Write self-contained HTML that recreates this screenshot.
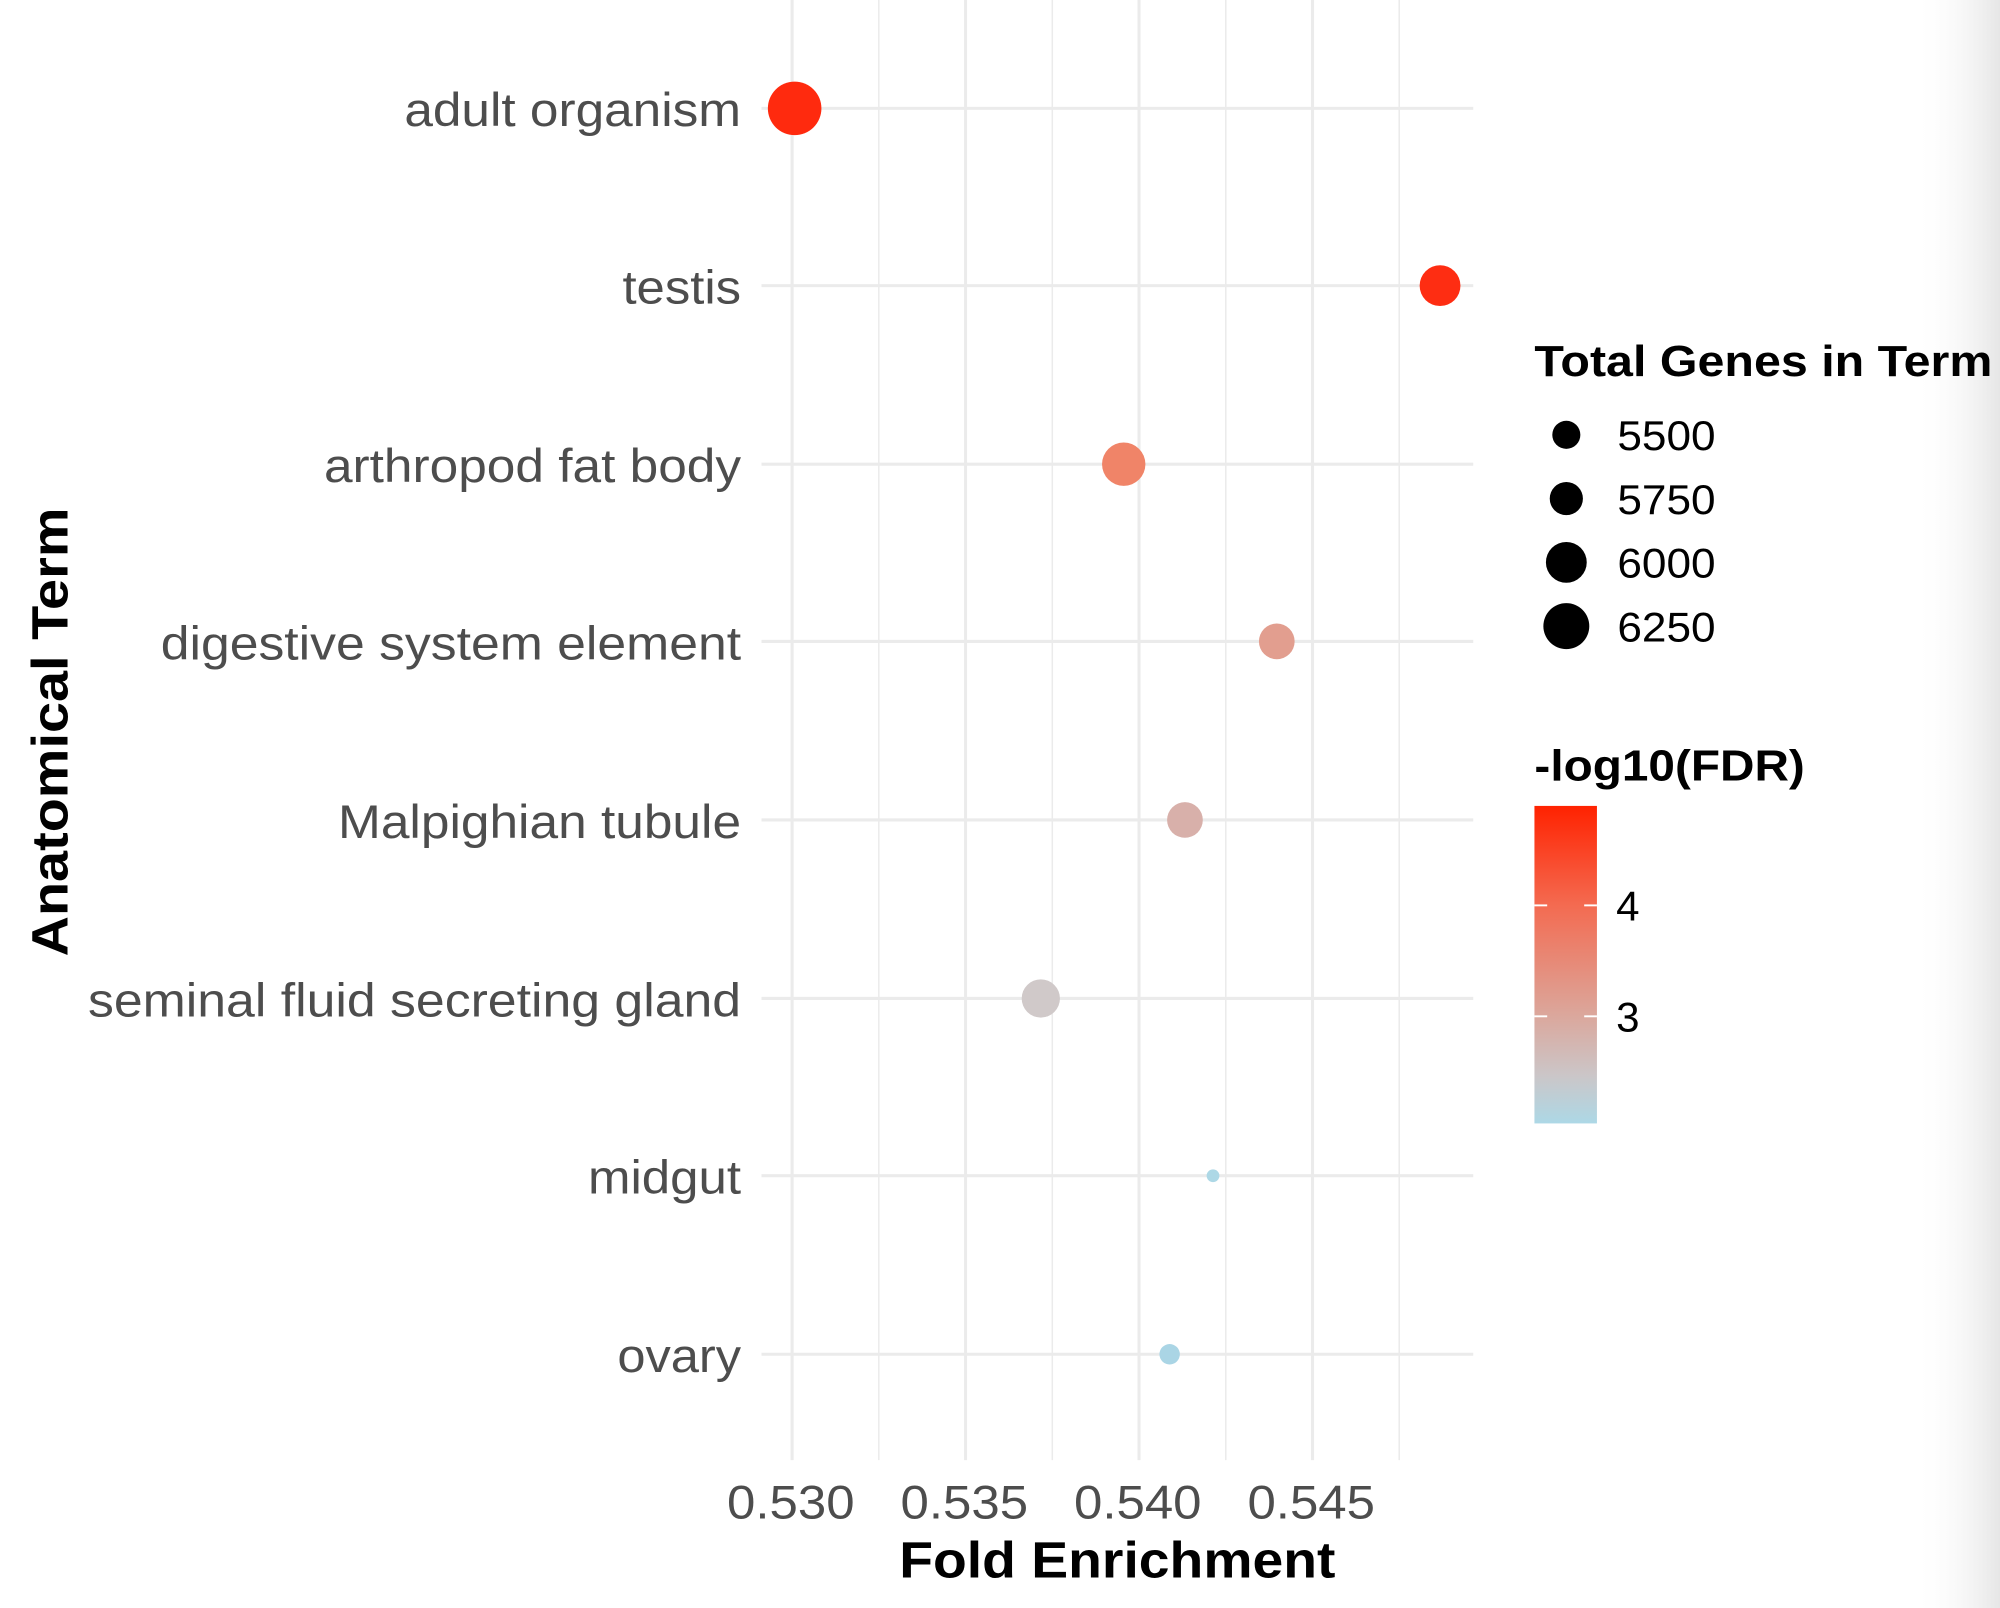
<!DOCTYPE html>
<html><head><meta charset="utf-8"><style>html,body{margin:0;padding:0;background:#fff}svg{display:block}</style></head>
<body>
<svg width="2000" height="1608" viewBox="0 0 1568 1261" xmlns="http://www.w3.org/2000/svg" preserveAspectRatio="none">
<defs>
<linearGradient id="cb" x1="0" y1="0" x2="0" y2="1">
<stop offset="0" stop-color="#FF2200"/>
<stop offset="0.31" stop-color="#F46A50"/>
<stop offset="0.66" stop-color="#DBA79C"/>
<stop offset="0.85" stop-color="#CBC6C8"/>
<stop offset="1" stop-color="#ADD8E6"/>
</linearGradient>
<linearGradient id="edge" x1="0" y1="0" x2="1" y2="0">
<stop offset="0" stop-color="#fff" stop-opacity="0"/>
<stop offset="1" stop-color="#e6e6e6"/>
</linearGradient>
</defs>
<rect width="1568" height="1261" fill="#fff"/>
<rect x="1500" y="0" width="68" height="1261" fill="url(#edge)"/>
<g stroke="#ebebeb" stroke-width="1.2">
<line x1="689" y1="0" x2="689" y2="1145"/><line x1="825" y1="0" x2="825" y2="1145"/>
<line x1="961" y1="0" x2="961" y2="1145"/><line x1="1097" y1="0" x2="1097" y2="1145"/>
</g>
<g stroke="#ebebeb" stroke-width="2.4">
<line x1="621" y1="0" x2="621" y2="1145"/><line x1="757" y1="0" x2="757" y2="1145"/>
<line x1="893" y1="0" x2="893" y2="1145"/><line x1="1029" y1="0" x2="1029" y2="1145"/>
<line x1="597" y1="85" x2="1155" y2="85"/><line x1="597" y1="224" x2="1155" y2="224"/>
<line x1="597" y1="364" x2="1155" y2="364"/><line x1="597" y1="503" x2="1155" y2="503"/>
<line x1="597" y1="643" x2="1155" y2="643"/><line x1="597" y1="783" x2="1155" y2="783"/>
<line x1="597" y1="922" x2="1155" y2="922"/><line x1="597" y1="1062" x2="1155" y2="1062"/>
</g>
<circle cx="623" cy="85" r="21" fill="#FF2A0E"/>
<circle cx="1129" cy="224" r="16" fill="#FE2D12"/>
<circle cx="881" cy="364" r="17" fill="#F08468"/>
<circle cx="1001" cy="503" r="14" fill="#E29E8F"/>
<circle cx="929" cy="643" r="14" fill="#D8B0AA"/>
<circle cx="816" cy="783" r="15" fill="#D0C9C9"/>
<circle cx="951" cy="922" r="5" fill="#ADD8E6"/>
<circle cx="917" cy="1062" r="8" fill="#AAD5E5"/>
<g font-family="Liberation Sans, sans-serif" font-size="37" fill="#4D4D4D" lengthAdjust="spacingAndGlyphs">
<text x="317" y="99" textLength="264" lengthAdjust="spacingAndGlyphs">adult organism</text>
<text x="488" y="238" textLength="93" lengthAdjust="spacingAndGlyphs">testis</text>
<text x="254" y="378" textLength="327" lengthAdjust="spacingAndGlyphs">arthropod fat body</text>
<text x="126" y="517" textLength="455" lengthAdjust="spacingAndGlyphs">digestive system element</text>
<text x="265" y="657" textLength="316" lengthAdjust="spacingAndGlyphs">Malpighian tubule</text>
<text x="69" y="797" textLength="512" lengthAdjust="spacingAndGlyphs">seminal fluid secreting gland</text>
<text x="461" y="936" textLength="120" lengthAdjust="spacingAndGlyphs">midgut</text>
<text x="484" y="1076" textLength="97" lengthAdjust="spacingAndGlyphs">ovary</text>
</g>
<g font-family="Liberation Sans, sans-serif" font-size="37" fill="#4D4D4D">
<text x="570" y="1191" textLength="100" lengthAdjust="spacingAndGlyphs">0.530</text>
<text x="706" y="1191" textLength="100" lengthAdjust="spacingAndGlyphs">0.535</text>
<text x="842" y="1191" textLength="100" lengthAdjust="spacingAndGlyphs">0.540</text>
<text x="978" y="1191" textLength="100" lengthAdjust="spacingAndGlyphs">0.545</text>
</g>
<text x="705" y="1237" font-family="Liberation Sans, sans-serif" font-size="40" font-weight="bold" textLength="342" lengthAdjust="spacingAndGlyphs">Fold Enrichment</text>
<text transform="translate(53,750) rotate(-90)" font-family="Liberation Sans, sans-serif" font-size="40" font-weight="bold" textLength="352" lengthAdjust="spacingAndGlyphs">Anatomical Term</text>
<g font-family="Liberation Sans, sans-serif">
<text x="1203" y="295" font-size="34" font-weight="bold" textLength="359" lengthAdjust="spacingAndGlyphs">Total Genes in Term</text>
<circle cx="1228" cy="341" r="11"/><circle cx="1228" cy="391" r="13"/>
<circle cx="1228" cy="441" r="16"/><circle cx="1228" cy="491" r="18"/>
<g font-size="33"><text x="1268" y="353" textLength="77" lengthAdjust="spacingAndGlyphs">5500</text><text x="1268" y="403" textLength="77" lengthAdjust="spacingAndGlyphs">5750</text><text x="1268" y="453" textLength="77" lengthAdjust="spacingAndGlyphs">6000</text><text x="1268" y="503" textLength="77" lengthAdjust="spacingAndGlyphs">6250</text></g>
<text x="1203" y="612" font-size="34" font-weight="bold" textLength="212" lengthAdjust="spacingAndGlyphs">-log10(FDR)</text>
<rect x="1203" y="632" width="49" height="249" fill="url(#cb)"/>
<g stroke="#fff" stroke-width="1.5">
<line x1="1203" y1="710" x2="1213" y2="710"/><line x1="1242" y1="710" x2="1252" y2="710"/>
<line x1="1203" y1="797" x2="1213" y2="797"/><line x1="1242" y1="797" x2="1252" y2="797"/>
</g>
<g font-size="33"><text x="1267" y="722">4</text><text x="1267" y="809">3</text></g>
</g>
</svg>
</body></html>
